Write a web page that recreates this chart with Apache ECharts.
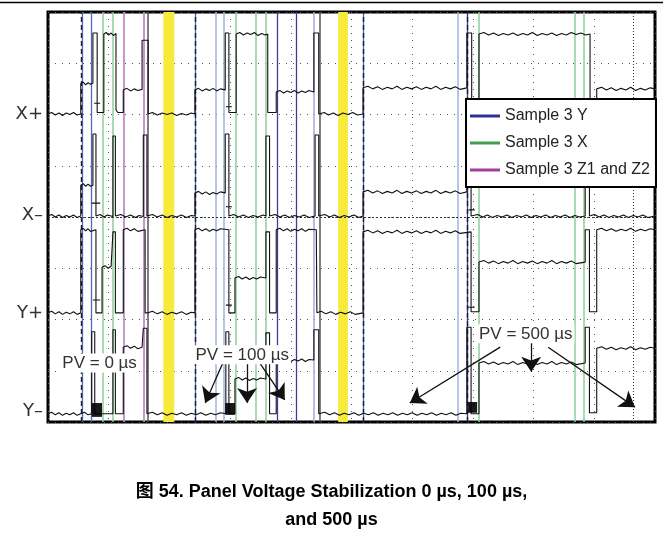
<!DOCTYPE html>
<html>
<head>
<meta charset="utf-8">
<script src="https://cdn.jsdelivr.net/npm/echarts@6/dist/echarts.min.js"></script>
<style>
html,body{margin:0;padding:0;background:#fff;}
#c{width:663px;height:543px;}
</style>
</head>
<body>
<div id="c"></div>
<script>
// ---- Data (x: time units 0..1000 across the screen, y: 0..800 = 8 divisions) ----
const yTickValues = [20, 213, 404, 600];
const yTickLabels = ['Y\u2013', 'Y+', 'X\u2013', 'X+'];

const traceXPlus = [[0,601],[6,604],[12,599],[18,603],[24,598],[30,603],[36,600],[42,604],[48,599],[54,601],
[54,660],[58,663],[62,658],[66,662],[70,659],[74,661],
[74,759],[81,759],[81,622],[76,622],[86,622],[81,622],[81,604],[92,604],
[92,757],[96,760],[100,755],[104,759],[108,754],[112,758],
[112,609],[115,609],[115,604],[124,604],
[124,648],[130,651],[136,646],[142,650],[148,647],[155,649],
[155,745],[165,745],[165,601],[172,604],[180,599],[188,603],[196,600],[204,603],[212,598],[220,602],[228,599],[236,603],[242,601],
[242,648],[248,651],[254,646],[260,650],[266,647],[272,651],[278,646],[284,650],[292,648],
[292,759],[298,759],[298,615],[293,615],[303,615],[298,615],[298,604],[310,604],
[310,757],[316,760],[322,755],[328,759],[334,756],[340,760],[346,754],[352,758],[358,755],[362,757],
[362,604],[376,604],
[376,644],[382,647],[388,642],[394,646],[400,643],[406,647],[412,642],[418,646],[424,643],[430,647],[438,644],
[438,759],[446,759],[446,601],[455,604],[462,599],[470,603],[478,598],[486,603],[494,600],[502,604],[510,599],[519,601],
[519,652],[527,655],[535,650],[543,654],[551,649],[559,653],[567,650],[575,655],[583,649],[591,653],[599,650],[607,654],[615,649],[623,653],[631,650],[639,655],[647,649],[655,653],[663,650],[671,654],[679,649],[690,652],
[690,759],[698,759],[698,601],[710,601],
[710,757],[718,760],[726,755],[734,759],[742,754],[750,758],[758,755],[766,759],[774,754],[782,758],[790,755],[798,760],[806,754],[814,758],[822,755],[830,759],[838,754],[846,758],[854,755],[862,760],[870,756],[878,759],[886,755],[893,757],
[893,601],[904,601],
[904,650],[912,653],[920,648],[928,652],[936,647],[944,651],[952,648],[960,653],[968,647],[976,651],[984,648],[992,652],[1000,650]];

const traceXMinus = [[0,402],[6,405],[12,400],[18,404],[24,399],[30,403],[36,400],[42,404],[48,399],[54,402],
[54,462],[58,465],[62,460],[66,464],[70,460],[74,462],
[74,562],[79,562],[79,427],[72,427],[86,427],[79,427],[79,402],[86,405],[92,400],[98,404],[107,401],
[107,558],[111,558],[111,402],[120,405],[128,400],[136,404],[144,399],[150,403],[157,401],
[157,560],[163,560],[163,402],[172,405],[180,400],[188,404],[196,399],[204,403],[212,400],[220,404],[228,399],[236,403],[242,402],
[242,447],[248,450],[254,445],[260,449],[266,444],[272,448],[278,445],[284,449],[292,447],
[292,562],[298,562],[298,420],[293,420],[303,420],[298,420],[298,402],[306,405],[314,400],[322,404],[330,399],[338,403],[346,400],[354,404],[359,402],
[359,558],[365,558],[365,402],[374,405],[382,400],[390,404],[398,399],[406,403],[414,400],[422,404],[430,399],[440,402],
[440,560],[446,560],[446,402],[456,405],[464,400],[472,404],[480,399],[488,403],[496,400],[504,404],[512,399],[519,402],
[519,449],[527,452],[535,447],[543,451],[551,446],[559,450],[567,447],[575,452],[583,446],[591,450],[599,447],[607,451],[615,446],[623,450],[631,447],[639,452],[647,446],[655,450],[663,447],[671,451],[679,446],[690,449],
[690,550],[697,550],[697,414],[693,414],[703,414],[697,414],[697,402],[708,405],[716,400],[724,404],[732,399],[740,403],[748,400],[756,404],[764,399],[772,403],[780,400],[788,404],[796,399],[804,403],[812,400],[820,404],[828,399],[836,403],[844,400],[852,404],[860,399],[868,403],[876,400],[885,402],
[885,560],[892,560],[892,402],[900,405],[908,400],[916,404],[924,399],[932,403],[940,400],[948,404],[956,399],[964,403],[972,400],[980,404],[988,399],[1000,402]];

const traceYPlus = [[0,213],[6,216],[12,211],[18,215],[24,210],[30,214],[36,211],[42,215],[48,210],[54,213],
[54,375],[58,378],[62,373],[66,377],[70,372],[79,375],
[79,238],[74,238],[86,238],[79,238],[79,213],[89,213],
[89,302],[94,305],[99,300],[104,304],[107,302],
[107,371],[111,371],[111,213],[124,213],
[124,375],[130,378],[136,373],[142,377],[148,372],[160,375],
[160,213],[165,213],[172,216],[180,211],[188,215],[196,210],[204,214],[212,211],[220,215],[228,210],[236,214],[242,213],
[242,375],[248,378],[254,373],[260,377],[266,372],[272,376],[278,373],[284,377],[298,375],
[298,228],[293,228],[303,228],[298,228],[298,213],[308,213],
[308,281],[314,284],[320,279],[326,283],[332,278],[338,282],[344,279],[350,283],[359,281],
[359,371],[365,371],[365,213],[376,213],
[376,375],[382,378],[388,373],[394,377],[400,372],[406,376],[412,373],[418,377],[424,372],[430,376],[442,375],
[443,375],[443,213],[450,216],[458,211],[466,215],[474,210],[482,214],[490,211],[498,215],[506,210],[519,213],
[519,371],[527,374],[535,369],[543,373],[551,368],[559,372],[567,369],[575,374],[583,368],[591,372],[599,369],[607,373],[615,368],[623,372],[631,369],[639,374],[647,368],[655,372],[663,369],[671,373],[679,368],[697,371],
[697,224],[692,224],[703,224],[697,224],[697,215],[710,215],
[710,312],[718,315],[726,310],[734,314],[742,309],[750,313],[758,310],[766,315],[774,309],[782,313],[790,310],[798,314],[806,309],[814,313],[822,310],[830,315],[838,309],[846,313],[854,310],[862,314],[870,309],[885,312],
[885,375],[892,375],[892,215],[904,215],
[904,375],[912,378],[920,373],[928,377],[936,372],[944,376],[952,373],[960,378],[968,372],[976,376],[984,373],[992,377],[1000,375]];

const traceYMinus = [[0,16],[6,19],[12,14],[18,18],[24,13],[30,17],[36,14],[42,18],[48,13],[54,16],[60,19],[66,14],[72,16],
[72,176],[77,176],[77,16],[107,16],
[107,180],[111,180],[111,16],[124,16],
[124,146],[130,149],[136,144],[142,148],[148,143],[155,146],
[157,183],[163,183],[163,16],[172,19],[180,14],[188,18],[196,13],[204,17],[212,14],[220,18],[228,13],[236,17],[244,14],[252,18],[260,13],[268,17],[276,14],[284,18],[293,16],
[293,176],[298,176],[298,16],[308,16],
[308,84],[314,87],[320,82],[326,86],[332,81],[338,85],[344,82],[350,86],[359,84],
[359,174],[365,174],[365,16],[376,16],
[376,121],[382,124],[388,119],[394,123],[400,118],[406,122],[412,119],[418,123],[424,118],[430,122],[438,121],
[438,180],[446,180],[446,16],[456,19],[464,14],[472,18],[480,13],[488,17],[496,14],[504,18],[512,13],[520,17],[528,14],[536,18],[544,13],[552,17],[560,14],[568,18],[576,13],[584,17],[592,14],[600,18],[608,13],[616,17],[624,14],[632,18],[640,13],[648,17],[656,14],[664,18],[672,13],[680,17],[690,16],
[690,185],[697,185],[697,16],[710,16],
[710,115],[718,118],[726,113],[734,117],[742,112],[750,116],[758,113],[766,118],[774,112],[782,116],[790,113],[798,117],[806,112],[814,116],[822,113],[830,118],[838,112],[846,116],[854,113],[862,117],[870,112],[885,115],
[885,185],[892,185],[892,18],[904,18],
[904,144],[912,147],[920,142],[928,146],[936,141],[944,145],[952,142],[960,147],[968,141],[976,145],[984,142],[992,146],[1000,144]];

const blockAreas = [[[72,10],[89,37]], [[292,14],[308,37]], [[692,18],[707,39]]];

const blueLines = [56, 72, 242, 519];
const lightBlueLines = [277, 290, 675];
const navyLines = [377, 409, 690];
const lavenderLines = [438];
const greenLines = [91, 107, 310, 343, 358, 710, 868, 883];
const purpleLines = [124, 157];
const yellowBands = [[190, 208], [478, 494]];
const dashedEdges = [54, 242, 519, 690];
const grayEdges = [165, 448];
const centerX = [964];
const centerY = [400];

const pvLabels = [
  {x: 85, y: 115, text: 'PV = 0 \u00b5s'},
  {x: 320, y: 131, text: 'PV = 100 \u00b5s'},
  {x: 787, y: 172, text: 'PV = 500 \u00b5s'}
];
const pvArrows = [
  [[288,115],[259,37]], [[328,115],[328,37]], [[349,115],[390,43]],
  [[745,146],[596,37]], [[796,164],[796,98]], [[824,146],[967,29]]
];

const legendNames = ['Sample 3 Y', 'Sample 3 X', 'Sample 3 Z1 and Z2'];
const captionText = '\u56fe 54. Panel Voltage Stabilization 0 \u00b5s, 100 \u00b5s,\nand 500 \u00b5s';

// ---- Chart ----
const FONT = "'Liberation Sans', Arial, 'Noto Sans CJK SC', sans-serif";
const chart = echarts.init(document.getElementById('c'), null, {renderer: 'canvas'});

function vLines(name, xs, color, width, type, z, legendColor) {
  const lc = legendColor || color;
  return {
    name: name, type: 'line', data: [], z: z || 3,
    itemStyle: {color: lc}, lineStyle: {color: lc},
    markLine: {
      silent: true, symbol: ['none', 'none'], label: {show: false}, animation: false,
      z: z || 3,
      lineStyle: {color: color, width: width, type: type || 'solid', opacity: 1},
      emphasis: {disabled: true},
      data: xs.map(function (x) { return {xAxis: x}; })
    }
  };
}
function trace(data) {
  return {
    type: 'line', data: data, z: 6, showSymbol: false, symbol: 'none', silent: true,
    lineStyle: {color: '#111', width: 1.1}, animation: false
  };
}

const option = {
  animation: false,
  backgroundColor: '#fff',
  textStyle: {fontFamily: FONT},
  title: {
    text: captionText, left: 'center', top: 473,
    textStyle: {fontSize: 18, fontWeight: 'bold', color: '#000', lineHeight: 28, fontFamily: FONT}
  },
  legend: {
    data: legendNames, orient: 'vertical', left: 466, top: 99, z: 10,
    backgroundColor: '#fff', borderColor: '#000', borderWidth: 2,
    padding: [9, 6, 9, 4], itemGap: 11, itemWidth: 30, itemHeight: 3, icon: 'rect',
    selectedMode: false,
    textStyle: {fontSize: 16, color: '#222', fontFamily: FONT}
  },
  graphic: [{
    type: 'line', shape: {x1: 0, y1: 2.5, x2: 663, y2: 2.5},
    style: {stroke: '#000', lineWidth: 1.5}
  }],
  grid: {left: 48, right: 8, top: 12, bottom: 121, show: true, borderColor: '#000', borderWidth: 3, backgroundColor: '#fff', z: 0},
  xAxis: {
    type: 'value', min: 0, max: 1000, interval: 100,
    axisLine: {show: false}, axisTick: {show: false}, axisLabel: {show: false},
    splitLine: {show: true, lineStyle: {color: '#555', width: 1, type: [1, 6]}}
  },
  yAxis: {
    type: 'value', min: 0, max: 800, interval: 100,
    axisLine: {show: false}, axisTick: {show: false},
    axisLabel: {
      customValues: yTickValues, margin: 5, fontSize: 18, color: '#333',
      fontFamily: "'DejaVu Sans', 'Liberation Sans', sans-serif",
      formatter: function (v) { const i = yTickValues.indexOf(v); return i >= 0 ? yTickLabels[i] : ''; }
    },
    splitLine: {show: true, lineStyle: {color: '#555', width: 1, type: [1, 6]}}
  },
  series: [
    {
      type: 'line', data: [], z: 1, silent: true,
      markArea: {
        silent: true, z: 1, itemStyle: {color: '#f7ea3a', opacity: 1},
        data: yellowBands.map(function (b) { return [{xAxis: b[0]}, {xAxis: b[1]}]; })
      }
    },
    vLines(legendNames[0], navyLines, '#3c3c9e', 1.3, 'solid', 3, '#2e3192'),
    vLines(legendNames[0], blueLines, '#4c6cb8', 1.3, 'solid', 3, '#2e3192'),
    vLines(legendNames[0], lightBlueLines, '#9fb2de', 1.5, 'solid', 3, '#2e3192'),
    vLines(legendNames[0], lavenderLines, '#a8a6d8', 1.5, 'solid', 3, '#2e3192'),
    vLines(legendNames[1], greenLines, '#8cce99', 1.5, 'solid', 3, '#3f9d52'),
    vLines(legendNames[2], purpleLines, '#bf8cc8', 1.8, 'solid', 3, '#9c3f9f'),
    vLines('edges', grayEdges, '#555', 1.5, 'solid', 4),
    vLines('dashed', dashedEdges, '#1a1a3a', 1.4, [5, 3], 4),
    vLines('centerV', centerX, '#333', 1, [1, 2], 4),
    {
      type: 'line', data: [], z: 4, silent: true,
      markLine: {
        silent: true, symbol: ['none', 'none'], label: {show: false}, z: 4,
        lineStyle: {color: '#333', width: 1, type: [2, 2]},
        data: centerY.map(function (y) { return {yAxis: y}; })
      }
    },
    trace(traceXPlus),
    trace(traceXMinus),
    trace(traceYPlus),
    Object.assign(trace(traceYMinus), {
      markArea: {
        silent: true, z: 7, itemStyle: {color: '#000', opacity: 0.9},
        data: blockAreas.map(function (a) { return [{coord: a[0]}, {coord: a[1]}]; })
      }
    }),
    {
      type: 'line', data: [], z: 12, silent: true,
      markLine: {
        silent: true, z: 12, symbol: ['none', 'arrow'], symbolSize: 15, label: {show: false},
        lineStyle: {color: '#111', width: 1.3, type: 'solid'},
        itemStyle: {color: '#111'},
        data: pvArrows.map(function (a) { return [{coord: a[0]}, {coord: a[1]}]; })
      },
      markPoint: {
        silent: true, z: 13, symbol: 'rect', symbolSize: 1, itemStyle: {color: 'rgba(0,0,0,0)'},
        label: {
          show: true, position: 'inside', formatter: function (p) { return p.name; },
          fontSize: 17, color: '#333', fontFamily: FONT, backgroundColor: '#fff', padding: [1, 2]
        },
        data: pvLabels.map(function (d) { return {name: d.text, coord: [d.x, d.y]}; })
      }
    }
  ]
};
chart.setOption(option);
</script>
</body>
</html>
